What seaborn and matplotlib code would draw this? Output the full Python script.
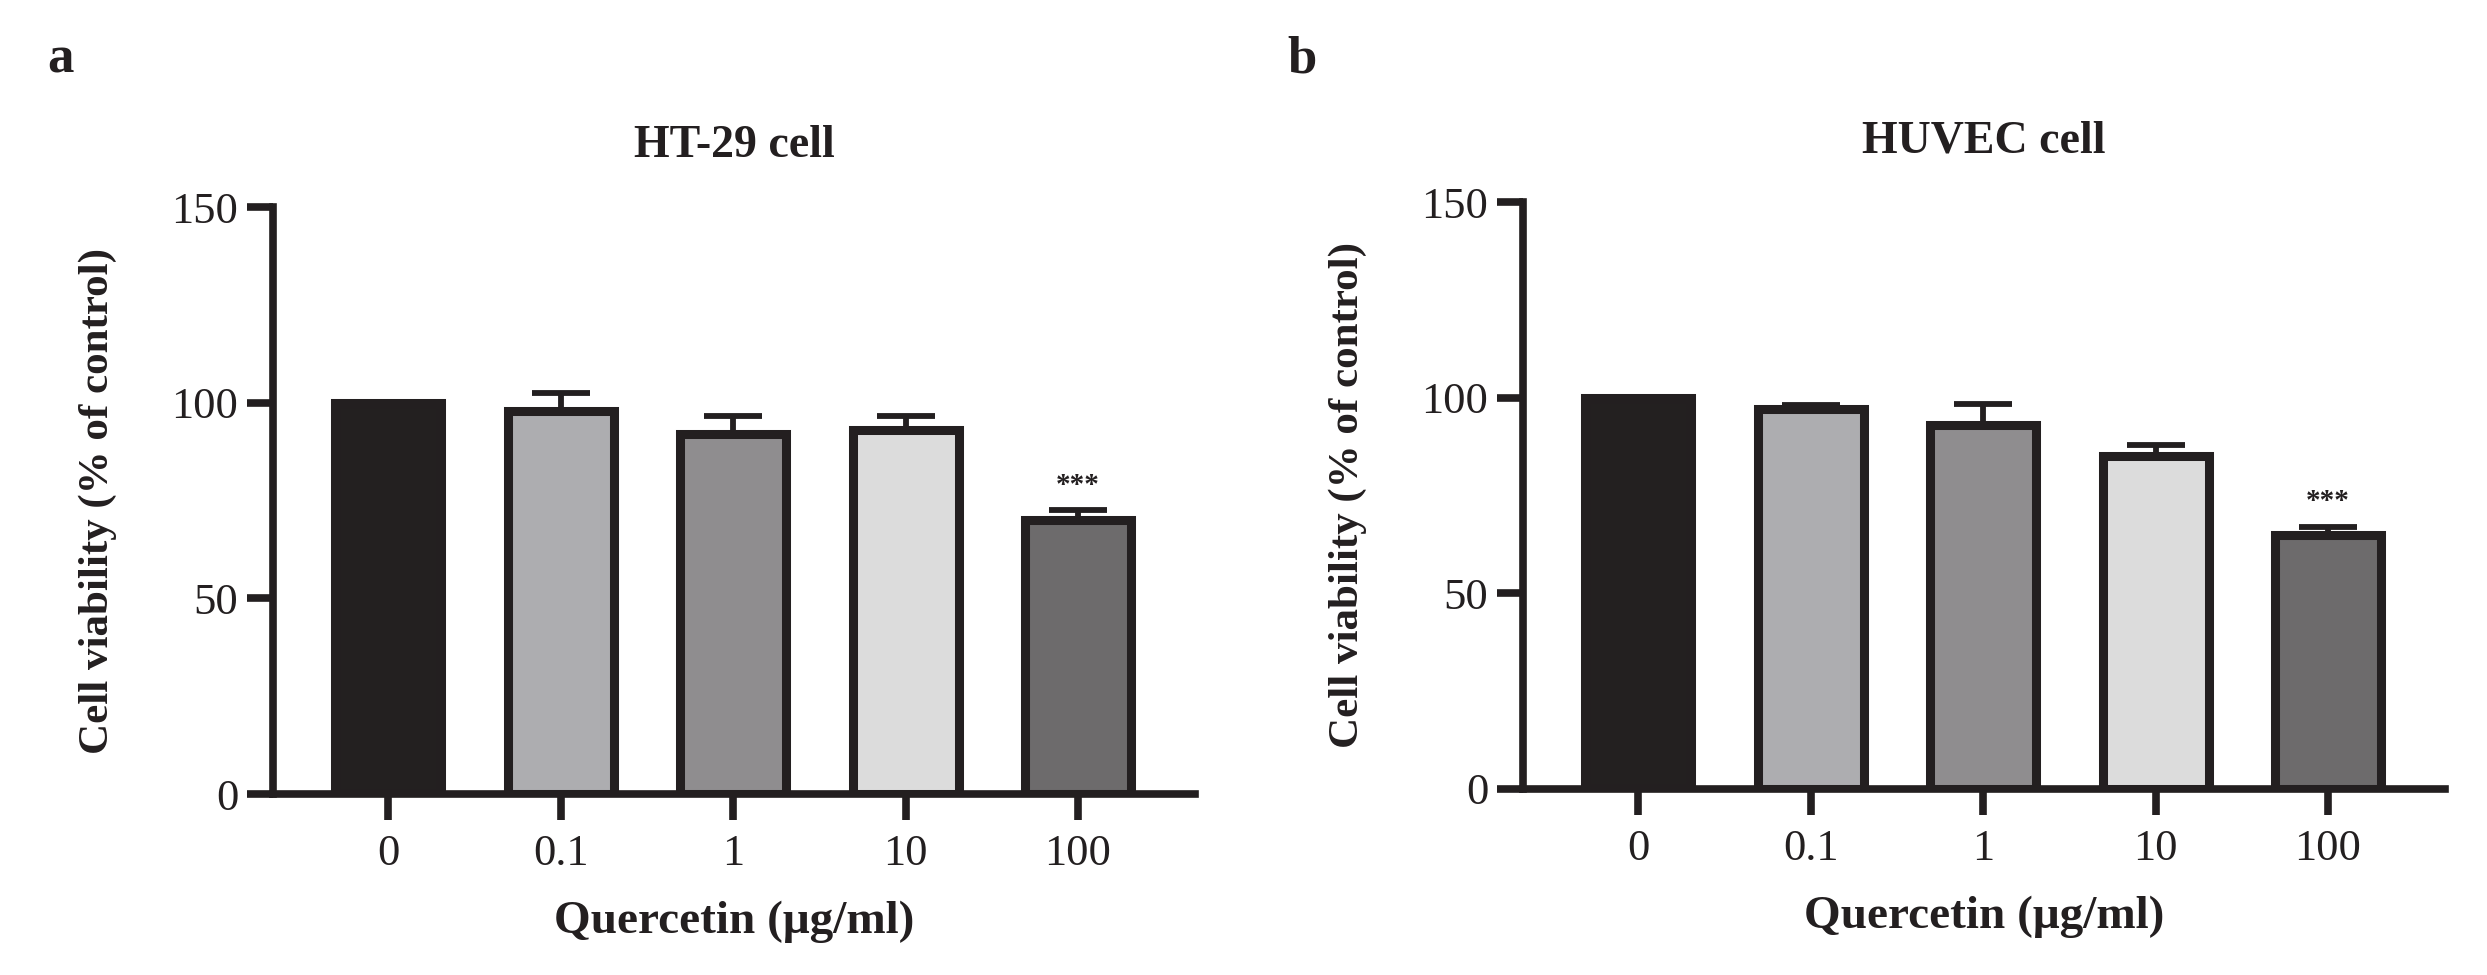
import matplotlib
matplotlib.use("Agg")
import matplotlib.pyplot as plt
import seaborn as sns
import pandas as pd
import numpy as np

doses = ["0", "0.1", "1", "10", "100"]
ht29_mean = [100, 98, 92, 93, 70]
ht29_err = [0, 4.5, 4.5, 3.5, 2.5]
huvec_mean = [100, 97, 93, 85, 65]
huvec_err = [0, 1.2, 5.5, 3, 2]
bar_colors = ["#231f20", "#adacb1", "#8f8d8f", "#dcdcdc", "#6d6b6c"]
titles = ["HT-29 cell", "HUVEC cell"]
panel_letters = ["a", "b"]
sig_label = "***"

sns.set_theme(style="ticks")
plt.rcParams['font.family'] = ['Liberation Serif', 'DejaVu Serif']

ink = "#231f20"
fig = plt.figure(figsize=(24.87, 9.75), dpi=100)
axes_pos = [[0.1098, 0.1856, 0.3707, 0.602], [0.6124, 0.1908, 0.3707, 0.602]]
letter_x = [0.019, 0.5175]

for i, (means, errs) in enumerate([(ht29_mean, ht29_err), (huvec_mean, huvec_err)]):
    ax = fig.add_axes(axes_pos[i])
    df = pd.DataFrame({"dose": doses, "val": means})
    sns.barplot(data=df, x="dose", y="val", hue="dose", palette=bar_colors,
                order=doses, hue_order=doses, legend=False, errorbar=None,
                width=0.615, edgecolor=ink, linewidth=6.5, ax=ax, zorder=3)
    xs = np.arange(len(doses))
    ax.errorbar(xs, means, yerr=[np.zeros(len(errs)), errs], fmt="none",
                ecolor=ink, elinewidth=4.2, capsize=21, capthick=4.2, zorder=2)
    ax.text(xs[-1], means[-1] + errs[-1] + 4.5, sig_label, ha="center", va="baseline",
            fontsize=21, fontweight="bold", color=ink)
    ax.set_xlim(-0.667, 4.678)
    ax.set_ylim(0, 150)
    ax.set_yticks([0, 50, 100, 150])
    sns.despine(ax=ax)
    for s in ["left", "bottom"]:
        ax.spines[s].set_linewidth(5.5)
        ax.spines[s].set_color(ink)
        ax.spines[s].set_capstyle("projecting")
    ax.tick_params(axis="both", which="major", width=5.5, length=19, color=ink,
                   labelsize=32, labelcolor=ink)
    ax.tick_params(axis="y", pad=6)
    ax.tick_params(axis="x", pad=10)
    ax.set_xlabel("Quercetin (μg/ml)", fontsize=34, fontweight="bold", color=ink, va="center")
    ax.set_ylabel("Cell viability (% of control)", fontsize=31, fontweight="bold", color=ink, va="center")
    ax.xaxis.set_label_coords(0.5, -0.218)
    ax.yaxis.set_label_coords(-0.19, 0.5)
    ax.set_title(titles[i], fontsize=33, fontweight="bold", color=ink, pad=36)
    ax.set_facecolor("white")
    fig.text(letter_x[i], 0.926, panel_letters[i], fontsize=38, fontweight="bold",
             color=ink, ha="left", va="baseline")

fig.savefig("out.png", dpi=100, facecolor="white")
